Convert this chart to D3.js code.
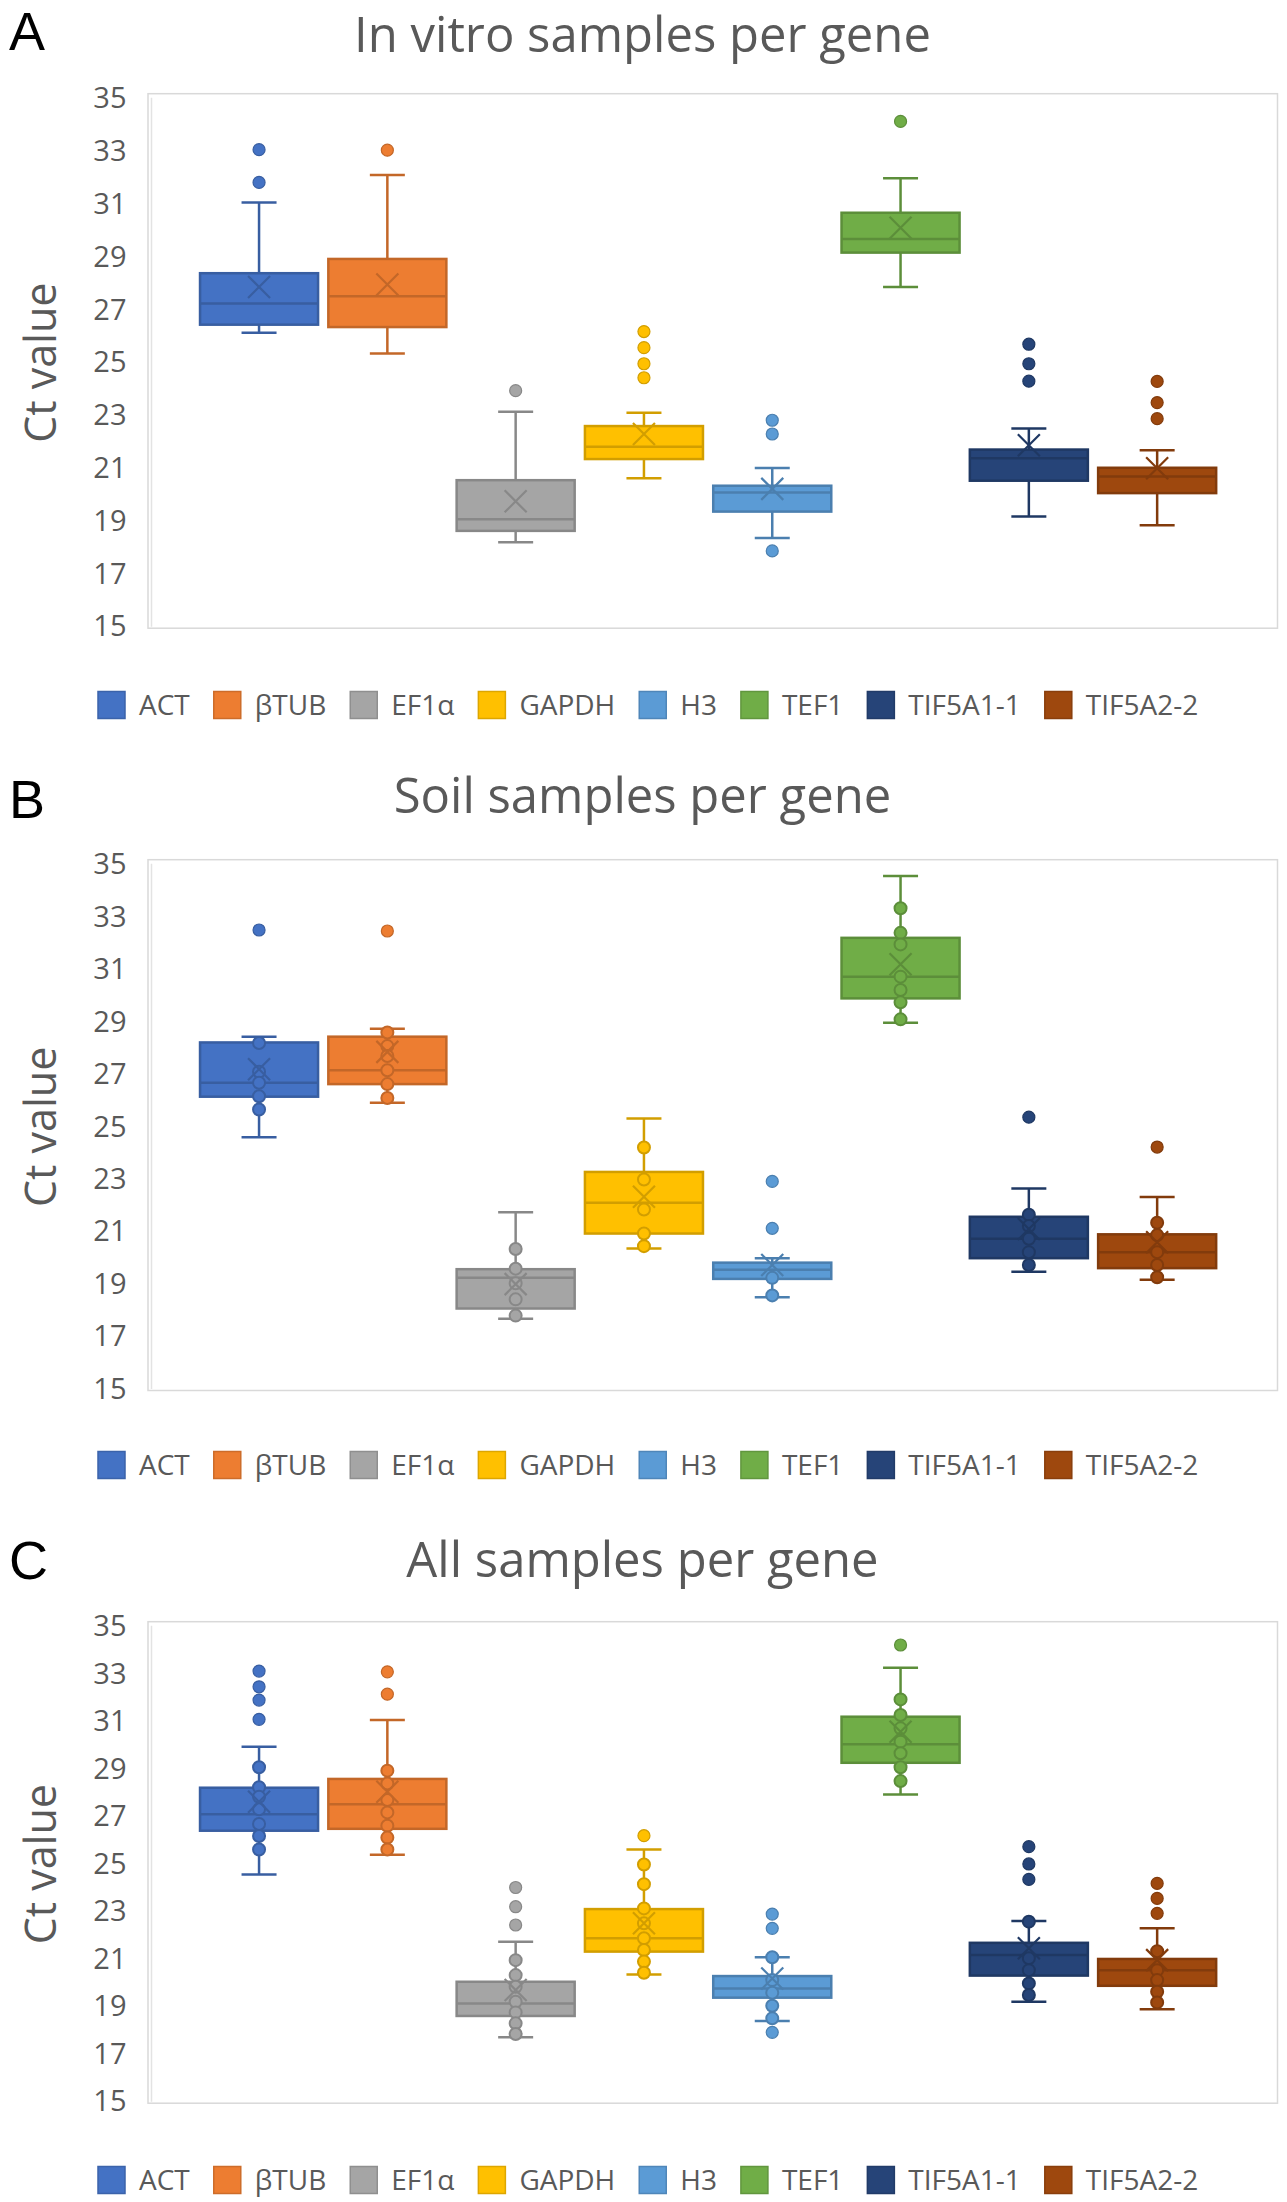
<!DOCTYPE html>
<html>
<head>
<meta charset="utf-8">
<script src="https://cdn.jsdelivr.net/npm/d3@7"></script>
<style>
  body { margin: 0; background: #fff; }
  svg { display: block; }
</style>
</head>
<body>
<div id="chart"></div>
<script>
// genes and their Excel colours
const genes = ["ACT", "βTUB", "EF1α", "GAPDH", "H3", "TEF1", "TIF5A1-1", "TIF5A2-2"];
const geneColors = ["#4472C4", "#ED7D31", "#A5A5A5", "#FFC000", "#5B9BD5", "#70AD47", "#264478", "#9E480E"];

const panelLetters = ["A", "B", "C"];
const panelTitles = ["In vitro samples per gene", "Soil samples per gene", "All samples per gene"];
const yTicks = [15, 17, 19, 21, 23, 25, 27, 29, 31, 33, 35];

// box stats per gene: [low whisker, Q1, median, Q3, high whisker, mean]
const vitroBoxes = [
  [26.13, 26.44, 27.24, 28.39, 31.07, 27.87],
  [25.35, 26.35, 27.52, 28.93, 32.11, 27.96],
  [18.2, 18.63, 19.07, 20.55, 23.14, 19.75],
  [20.62, 21.35, 21.82, 22.6, 23.1, 22.3],
  [18.36, 19.36, 20.08, 20.34, 21.01, 20.22],
  [27.87, 29.17, 29.69, 30.68, 31.99, 30.11],
  [19.17, 20.53, 21.38, 21.71, 22.51, 21.87],
  [18.84, 20.06, 20.69, 21.02, 21.68, 21.0],
];
const vitroOutliers = [
  [33.07, 31.83], [33.05], [23.94], [26.18, 25.57, 24.96, 24.43],
  [22.82, 22.3, 17.87], [34.14], [25.7, 24.96, 24.3], [24.29, 23.49, 22.88],
];
const vitroPoints = [[], [], [], [], [], [], [], []];

const soilBoxes = [
  [24.6, 26.15, 26.68, 28.22, 28.44, 27.2],
  [25.92, 26.63, 27.16, 28.44, 28.74, 27.86],
  [17.68, 18.07, 19.24, 19.57, 21.74, 19.0],
  [20.36, 20.93, 22.1, 23.28, 25.32, 22.33],
  [18.5, 19.2, 19.55, 19.82, 19.99, 19.73],
  [28.97, 29.9, 30.73, 32.21, 34.57, 31.2],
  [19.47, 19.99, 20.73, 21.57, 22.65, 21.1],
  [19.17, 19.61, 20.22, 20.9, 22.32, 20.6],
];
const soilOutliers = [[32.51], [32.47], [], [], [22.92, 21.13], [], [25.37], [24.23]];
const soilPoints = [
  [28.2, 27.1, 26.68, 26.17, 25.66],
  [28.6, 28.08, 27.7, 27.16, 26.63, 26.1],
  [20.34, 19.59, 19.03, 18.42, 17.8],
  [24.21, 22.99, 21.85, 20.93, 20.45],
  [19.24, 18.57],
  [33.34, 32.4, 31.96, 30.73, 30.22, 29.75, 29.1],
  [21.65, 21.22, 20.73, 20.22, 19.73],
  [21.34, 20.87, 20.22, 19.73, 19.26],
];

const allBoxes = [
  [24.57, 26.41, 27.1, 28.22, 29.95, 27.63],
  [25.4, 26.49, 27.52, 28.59, 31.07, 28.05],
  [17.71, 18.61, 19.14, 20.05, 21.74, 19.7],
  [20.36, 21.32, 21.88, 23.11, 25.62, 22.51],
  [18.4, 19.38, 19.77, 20.29, 21.08, 20.19],
  [27.94, 29.27, 30.05, 31.21, 33.27, 30.58],
  [19.21, 20.31, 21.18, 21.69, 22.61, 21.46],
  [18.89, 19.88, 20.54, 21.01, 22.3, 20.96],
];
const allOutliers = [
  [33.13, 32.47, 31.91, 31.1], [33.1, 32.16], [24.02, 23.21, 22.44], [26.2],
  [22.9, 22.3, 17.92], [34.23], [25.74, 25.01, 24.36], [24.19, 23.56, 22.93],
];
const allPoints = [
  [29.08, 28.24, 27.84, 27.31, 26.69, 26.19, 25.62],
  [28.94, 28.4, 27.7, 27.18, 26.62, 26.12, 25.62],
  [20.96, 20.33, 19.84, 19.21, 18.76, 18.3, 17.85],
  [24.99, 24.16, 23.14, 22.51, 21.88, 21.39, 20.9, 20.43],
  [21.08, 20.12, 19.59, 19.04, 18.51],
  [31.94, 31.28, 30.72, 30.16, 29.67, 29.08, 28.5],
  [22.58, 21.04, 20.54, 19.98, 19.49],
  [21.34, 20.54, 20.12, 19.63, 19.18],
];

const width = 1287;
const height = 2202;
const font = "'Open Sans', 'Noto Sans', sans-serif";
const letterFont = "'Liberation Sans', Arial, sans-serif";
const textGray = "#595959";

// page layout of the three panels (y of 35 and 15, title, letter, legend)
const layouts = [
  { top: 98.7, bottom: 626.7, title: 52, letter: 50, legend: 705 },
  { top: 864.7, bottom: 1389, title: 813, letter: 818, legend: 1465 },
  { top: 1626.7, bottom: 2101.7, title: 1577, letter: 1579, legend: 2180 },
];
const plotLeft = 148;
const plotRight = 1277.5;

const svg = d3
  .select("#chart")
  .append("svg")
  .attr("width", width)
  .attr("height", height)
  .attr("viewBox", `0 0 ${width} ${height}`);

const xScale = d3
  .scaleBand()
  .domain(genes)
  .range([194.9, 1221.3])
  .paddingInner(0.08)
  .paddingOuter(0.04);

function drawPanel(i, boxes, outliers, points) {
  const L = layouts[i];
  const g = svg.append("g").attr("class", "panel");

  const yScale = d3.scaleLinear().domain([15, 35]).range([L.bottom, L.top]);

  // panel letter and title
  g.append("text")
    .attr("x", 9)
    .attr("y", L.letter)
    .attr("font-family", letterFont)
    .attr("font-size", 54)
    .attr("fill", "#000")
    .text(panelLetters[i]);

  g.append("text")
    .attr("x", 642.5)
    .attr("y", L.title)
    .attr("text-anchor", "middle")
    .attr("font-family", font)
    .attr("font-size", 49)
    .attr("fill", textGray)
    .text(panelTitles[i]);

  // plot area frame
  g.append("rect")
    .attr("x", plotLeft)
    .attr("y", L.top - 5)
    .attr("width", plotRight - plotLeft)
    .attr("height", L.bottom + 1.5 - (L.top - 5))
    .attr("fill", "none")
    .attr("stroke", "#D9D9D9")
    .attr("stroke-width", 1.5);

  g.append("line")
    .attr("x1", plotLeft + 3.5)
    .attr("x2", plotLeft + 3.5)
    .attr("y1", L.top - 1)
    .attr("y2", L.bottom)
    .attr("stroke", "#E3E3E3")
    .attr("stroke-width", 1.5);

  // y axis labels
  const yAxis = g
    .append("g")
    .attr("transform", `translate(${plotLeft}, 0)`)
    .call(d3.axisLeft(yScale).tickValues(yTicks).tickSize(0).tickPadding(21.5));
  yAxis.select(".domain").remove();
  yAxis
    .selectAll("text")
    .attr("font-family", font)
    .attr("font-size", 29)
    .attr("fill", textGray);

  g.append("text")
    .attr("transform", `translate(56, ${(L.top + L.bottom) / 2}) rotate(-90)`)
    .attr("text-anchor", "middle")
    .attr("font-family", font)
    .attr("font-size", 43)
    .attr("fill", textGray)
    .text("Ct value");

  // boxes
  const bw = xScale.bandwidth();
  const capW = 35;

  genes.forEach((gene, j) => {
    const [lo, q1, med, q3, hi, mean] = boxes[j];
    const color = geneColors[j];
    const dark = d3.color(color).darker(0.55).formatHex();
    const x0 = xScale(gene);
    const cx = x0 + bw / 2;
    const bg = g.append("g").attr("class", "box");

    // whiskers
    bg.append("line")
      .attr("x1", cx).attr("x2", cx)
      .attr("y1", yScale(hi)).attr("y2", yScale(q3))
      .attr("stroke", dark).attr("stroke-width", 2.5);
    bg.append("line")
      .attr("x1", cx).attr("x2", cx)
      .attr("y1", yScale(q1)).attr("y2", yScale(lo))
      .attr("stroke", dark).attr("stroke-width", 2.5);
    [lo, hi].forEach((v) => {
      bg.append("line")
        .attr("x1", cx - capW / 2).attr("x2", cx + capW / 2)
        .attr("y1", yScale(v)).attr("y2", yScale(v))
        .attr("stroke", dark).attr("stroke-width", 2.5);
    });

    // box
    bg.append("rect")
      .attr("x", x0)
      .attr("y", yScale(q3))
      .attr("width", bw)
      .attr("height", yScale(q1) - yScale(q3))
      .attr("fill", color)
      .attr("stroke", dark)
      .attr("stroke-width", 2.5);

    bg.append("line")
      .attr("x1", x0).attr("x2", x0 + bw)
      .attr("y1", yScale(med)).attr("y2", yScale(med))
      .attr("stroke", dark).attr("stroke-width", 2.5);

    // inner points
    bg.selectAll("circle.pt")
      .data(points[j])
      .join("circle")
      .attr("class", "pt")
      .attr("cx", cx)
      .attr("cy", (d) => yScale(d))
      .attr("r", 6)
      .attr("fill", color)
      .attr("stroke", dark)
      .attr("stroke-width", 2);

    // mean marker
    const my = yScale(mean);
    const s = 11;
    bg.append("path")
      .attr("d", `M${cx - s},${my - s}L${cx + s},${my + s}M${cx - s},${my + s}L${cx + s},${my - s}`)
      .attr("stroke", dark)
      .attr("stroke-width", 2.2)
      .attr("fill", "none");

    // outliers
    bg.selectAll("circle.out")
      .data(outliers[j])
      .join("circle")
      .attr("class", "out")
      .attr("cx", cx)
      .attr("cy", (d) => yScale(d))
      .attr("r", 6)
      .attr("fill", color)
      .attr("stroke", dark)
      .attr("stroke-width", 1.2);
  });

  // legend
  const lg = g.append("g").attr("class", "legend");
  const items = lg
    .selectAll("g")
    .data(genes)
    .join("g");

  items
    .append("rect")
    .attr("width", 27)
    .attr("height", 27)
    .attr("y", L.legend - 13.5)
    .attr("fill", (d, j) => geneColors[j])
    .attr("stroke", (d, j) => d3.color(geneColors[j]).darker(0.4).formatHex())
    .attr("stroke-width", 1.5);

  items
    .append("text")
    .attr("x", 41)
    .attr("y", L.legend)
    .attr("dy", "0.36em")
    .attr("font-family", font)
    .attr("font-size", 28)
    .attr("fill", textGray)
    .text((d) => d);

  let xPos = 98;
  items.each(function () {
    const w = d3.select(this).select("text").node().getComputedTextLength();
    d3.select(this).attr("transform", `translate(${xPos}, 0)`);
    xPos += 41 + w + 24;
  });
}

drawPanel(0, vitroBoxes, vitroOutliers, vitroPoints);
drawPanel(1, soilBoxes, soilOutliers, soilPoints);
drawPanel(2, allBoxes, allOutliers, allPoints);
</script>
</body>
</html>
